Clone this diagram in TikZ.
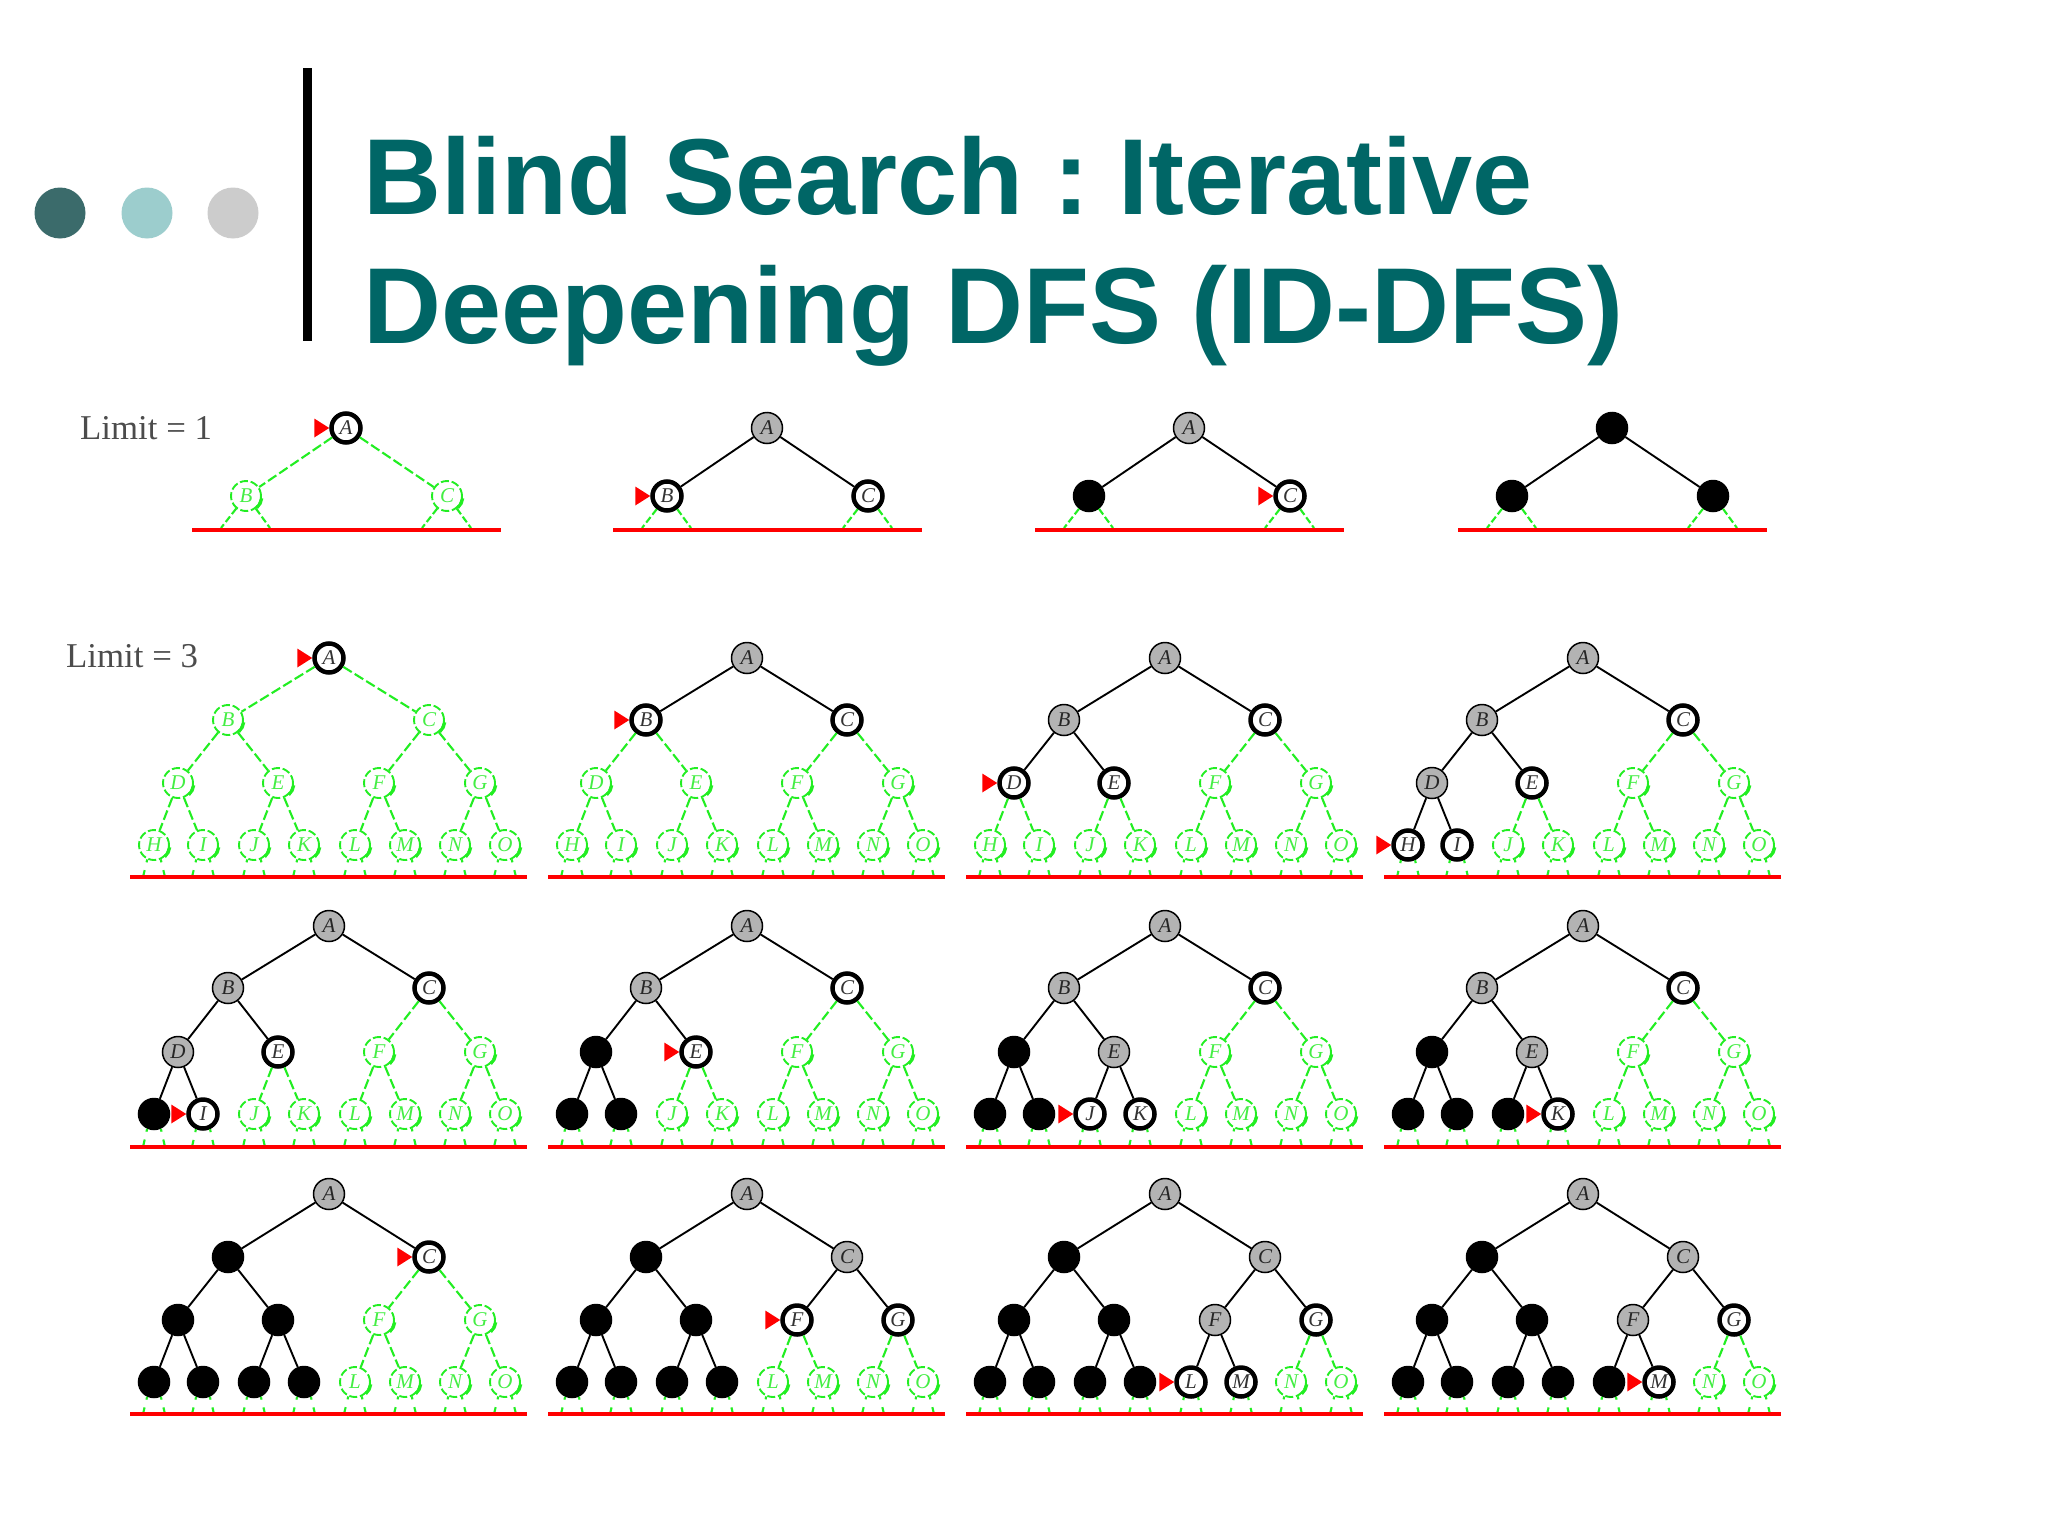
\documentclass[tikz,border=0pt]{standalone}
\usepackage{fontspec}
\setmainfont{Liberation Serif}
\newfontfamily\titlefont{Liberation Sans}
\definecolor{teal1}{HTML}{006666}
\definecolor{dot1}{HTML}{3B6B6B}
\definecolor{dot2}{HTML}{9CCDCD}
\definecolor{dot3}{HTML}{CCCCCC}
\definecolor{grn}{HTML}{22EE22}
\definecolor{grntxt}{HTML}{44EE44}
\definecolor{nodegray}{HTML}{B3B3B3}
\tikzset{
  dotn/.style={circle,minimum size=51pt,inner sep=0pt,draw=none},
  titletxt/.style={anchor=base west,inner sep=0pt,text=teal1,font=\titlefont\bfseries\fontsize{108}{129}\selectfont},
  limittxt/.style={anchor=base west,inner sep=0pt,text=black!70,font=\fontsize{34.8}{44}\selectfont},
  basen/.style={circle,inner sep=0pt,font=\itshape\fontsize{21}{21}\selectfont},
  nu/.style={basen,minimum size=30pt,draw=grn,line width=1.9pt,dash pattern=on 8pt off 2.8pt,text=grntxt},
  nf/.style={basen,minimum size=29pt,draw=black,line width=4.5pt,fill=white,text=black!80},
  ng/.style={basen,minimum size=31pt,draw=black,line width=1.5pt,fill=nodegray,text=black!85},
  nb/.style={basen,minimum size=31pt,draw=black,line width=1.5pt,fill=black},
  eu/.style={draw=grn,line width=2.1pt,dash pattern=on 10pt off 3.5pt},
  ef/.style={draw=black,line width=1.9pt},
  eg/.style={ef},
  eb/.style={ef},
  stub/.style={draw=grn,line width=2.1pt,dash pattern=on 3pt off 8pt on 9pt off 3pt},
  longstub/.style={draw=grn,line width=2.1pt,dash pattern=on 7pt off 3pt},
  nodeshade/.style={draw=grn,line width=3.2pt},
  baseline line/.style={draw=red,line width=4pt},
  ptr/.style={fill=red,draw=none}
}
\def\txtu#1{#1}\def\txtf#1{#1}\def\txtg#1{#1}\def\txtb#1{}
\newcommand\setstates[1]{%
  \foreach \l in {A,B,C,D,E,F,G,H,I,J,K,L,M,N,O}{\expandafter\gdef\csname st\l\endcsname{u}}%
  \foreach \l/\s in {#1}{\expandafter\xdef\csname st\l\endcsname{\s}}%
}
\newcommand\greenedge[2]{%
  \expandafter\ifx\csname st#2\endcsname\stmarku
    \draw[nodeshade] (#1#2.-8) -- (#1#2.-28) -- (#1#2.-48);%
  \fi}
\def\stmarku{u}
% #1 id, #2 cx, #3-#6 level y, #7 line y, #8 states, #9 pointer letter
\newcommand\bigtree[9]{%
  \setstates{#8}%
  \foreach \l/\dx/\yy in {A/0/#3,B/-101/#4,C/100/#4,D/-151/#5,E/-51/#5,F/50/#5,G/151/#5,
     H/-175/#6,I/-126/#6,J/-75/#6,K/-25/#6,L/26/#6,M/76/#6,N/126/#6,O/176/#6}{%
    \edef\nopt{n\csname st\l\endcsname}%
    \node[\nopt] (#1\l) at ({#2+(\dx)},\yy) {\csname txt\csname st\l\endcsname\endcsname{\l}};%
    \greenedge{#1}{\l}%
    }%
  \foreach \p/\c in {A/B,A/C,B/D,B/E,C/F,C/G,D/H,D/I,E/J,E/K,F/L,F/M,G/N,G/O}{%
    \edef\eopt{e\csname st\c\endcsname}%
    \draw[\eopt] (#1\p) -- (#1\c);%
    }%
  \coordinate (#1ll) at ({#2-199},#7);
  \coordinate (#1lr) at ({#2+198},#7);
  \foreach \l/\dx in {H/-175,I/-126,J/-75,K/-25,L/26,M/76,N/126,O/176}{%
    \coordinate (#1\l sl) at ({#2+(\dx)-11},#7);
    \coordinate (#1\l sr) at ({#2+(\dx)+11},#7);
    \draw[stub] (#1\l.245) -- (#1\l sl);
    \draw[stub] (#1\l.295) -- (#1\l sr);
    }%
  \draw[baseline line] (#1ll) -- (#1lr);
  \fill[ptr] (#1#9.west) ++(-15,-9.5) -- ++(0,19) -- ++(15,-9.5) -- cycle;
}
% #1 id, #2 cx, #3 states, #4 pointer letter (empty: none)
\newcommand\smalltree[4]{%
  \setstates{#3}%
  \foreach \l/\dx/\yy in {A/0/428,B/-100/496,C/101/496}{%
    \edef\nopt{n\csname st\l\endcsname}%
    \node[\nopt] (#1\l) at ({#2+(\dx)},\yy) {\csname txt\csname st\l\endcsname\endcsname{\l}};%
    \greenedge{#1}{\l}%
    }%
  \foreach \p/\c in {A/B,A/C}{%
    \edef\eopt{e\csname st\c\endcsname}%
    \draw[\eopt] (#1\p) -- (#1\c);%
    }%
  \coordinate (#1ll) at ({#2-154},530);
  \coordinate (#1lr) at ({#2+155},530);
  \foreach \l/\dx in {B/-100,C/101}{%
    \coordinate (#1\l sl) at ({#2+(\dx)-25},528);
    \coordinate (#1\l sr) at ({#2+(\dx)+24},528);
    \draw[longstub] (#1\l.232) -- (#1\l sl);
    \draw[longstub] (#1\l.308) -- (#1\l sr);
    }%
  \draw[baseline line] (#1ll) -- (#1lr);
  \ifx\relax#4\relax\else
    \fill[ptr] (#1#4.west) ++(-15,-9.5) -- ++(0,19) -- ++(15,-9.5) -- cycle;
  \fi
}
\begin{document}
\begin{tikzpicture}[x=1pt,y=-1pt]
\useasboundingbox (0,0) rectangle (2048,1536);
\fill[white] (0,0) rectangle (2048,1536);
% header
\node[dotn,fill=dot1] (d1) at (60,213) {};
\node[dotn,fill=dot2] (d2) at (147,213) {};
\node[dotn,fill=dot3] (d3) at (233,213) {};
\fill[black] (303,68) rectangle (312,341);
\node[titletxt] (t1) at (363,214) {Blind Search :\hspace*{-1pt} Iterative};
\node[titletxt] (t2) at (363,343) {Deepening DFS (ID-DFS)};
\node[limittxt] (lim1) at (80,439) {Limit = 1};
\node[limittxt] (lim3) at (66,667) {Limit = 3};
% limit 1
\smalltree{sa}{346}{A/f}{A}
\smalltree{sb}{767}{A/g,B/f,C/f}{B}
\smalltree{sc}{1189}{A/g,B/b,C/f}{C}
\smalltree{sd}{1612}{A/b,B/b,C/b}{}
% limit 3, first row
\bigtree{pa}{329}{658}{720}{783}{845}{877}{A/f}{A}
\bigtree{pb}{747}{658}{720}{783}{845}{877}{A/g,B/f,C/f}{B}
\bigtree{pc}{1165}{658}{720}{783}{845}{877}{A/g,B/g,C/f,D/f,E/f}{D}
\bigtree{pd}{1583}{658}{720}{783}{845}{877}{A/g,B/g,C/f,D/g,E/f,H/f,I/f}{H}
% second row
\bigtree{qa}{329}{926}{988}{1052}{1114}{1147}{A/g,B/g,C/f,D/g,E/f,H/b,I/f}{I}
\bigtree{qb}{747}{926}{988}{1052}{1114}{1147}{A/g,B/g,C/f,D/b,E/f,H/b,I/b}{E}
\bigtree{qc}{1165}{926}{988}{1052}{1114}{1147}{A/g,B/g,C/f,D/b,E/g,H/b,I/b,J/f,K/f}{J}
\bigtree{qd}{1583}{926}{988}{1052}{1114}{1147}{A/g,B/g,C/f,D/b,E/g,H/b,I/b,J/b,K/f}{K}
% third row
\bigtree{ra}{329}{1194}{1257}{1320}{1382}{1414}{A/g,B/b,C/f,D/b,E/b,H/b,I/b,J/b,K/b}{C}
\bigtree{rb}{747}{1194}{1257}{1320}{1382}{1414}{A/g,B/b,C/g,D/b,E/b,F/f,G/f,H/b,I/b,J/b,K/b}{F}
\bigtree{rc}{1165}{1194}{1257}{1320}{1382}{1414}{A/g,B/b,C/g,D/b,E/b,F/g,G/f,H/b,I/b,J/b,K/b,L/f,M/f}{L}
\bigtree{rd}{1583}{1194}{1257}{1320}{1382}{1414}{A/g,B/b,C/g,D/b,E/b,F/g,G/f,H/b,I/b,J/b,K/b,L/b,M/f}{M}
\end{tikzpicture}
\end{document}
